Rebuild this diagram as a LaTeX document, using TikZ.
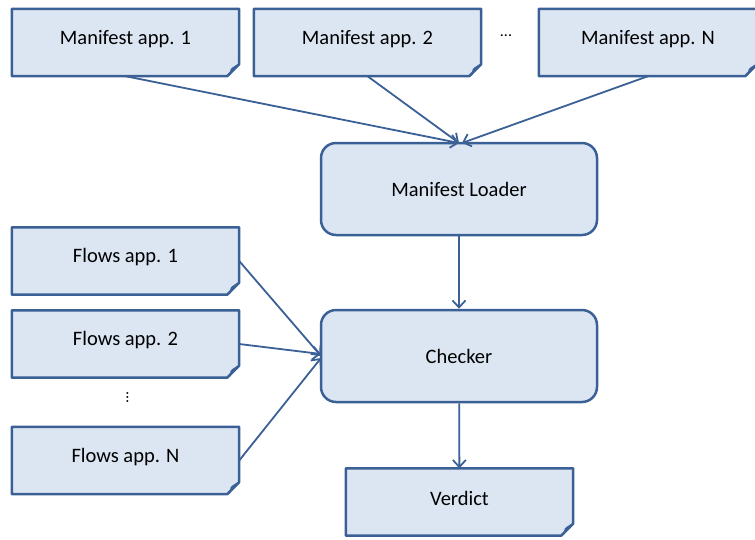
\documentclass[tikz,border=0pt]{standalone}
\usepackage{fontspec}
\setmainfont{Carlito}
\usetikzlibrary{arrows.meta,calc}
\definecolor{boxfill}{HTML}{DCE6F2}
\definecolor{boxline}{HTML}{3A6096}
\definecolor{foldfill}{HTML}{A9BEDB}
\begin{document}
\begin{tikzpicture}[x=1pt,y=-1pt,
  lbl/.style={font=\fontsize{20.5}{24}\selectfont, text=black},
  doclbl/.style={lbl, yshift=3.5pt},
  docbox/.style={lbl, minimum width=227pt, minimum height=67pt, inner sep=0pt},
  procbox/.style={lbl, draw=boxline, fill=boxfill, line width=2.5pt, rounded corners=15pt,
                  minimum width=276pt, minimum height=92pt, inner sep=0pt},
  conn/.style={draw=boxline, line width=1.8pt, -{Straight Barb[length=7pt,width=13pt,line width=1.8pt]}}]
\useasboundingbox (0,0) rectangle (755,539);

% document-shaped inputs and output (outline drawn below)
\node[docbox] (m1) at (125.5,42.5) {};
\node[docbox] (m2) at (367.5,42.5) {};
\node[docbox, minimum width=218pt] (mN) at (648,42.5) {};
\node[docbox] (f1) at (125.5,261) {};
\node[docbox] (f2) at (125.5,344) {};
\node[docbox] (fN) at (125.5,460.5) {};
\node[docbox] (v) at (459.5,502) {};

\foreach \nm in {m1,m2,mN,f1,f2,fN,v}{
  \path let \p1=(\nm.south west), \p2=(\nm.north east) in
    [draw=boxline, fill=boxfill, line width=2.5pt, line join=round]
    (\x1,\y2) -- (\x2,\y2) -- (\x2,\y1+12pt) -- (\x2-12pt,\y1) -- (\x1,\y1) -- cycle;
  \path let \p1=(\nm.south west), \p2=(\nm.north east) in
    [draw=boxline, fill=foldfill, line width=1.6pt, line join=round]
    (\x2,\y1+12pt) .. controls (\x2-5pt,\y1+9pt) and (\x2-9pt,\y1+7pt) .. (\x2-8pt,\y1+5pt)
    .. controls (\x2-9pt,\y1+2pt) .. (\x2-12pt,\y1) -- cycle;
}

\node[doclbl] at (m1) {Manifest app. 1};
\node[doclbl] at (m2) {Manifest app. 2};
\node[doclbl] at (mN) {Manifest app. N};
\node[doclbl] at (f1) {Flows app. 1};
\node[doclbl] at (f2) {Flows app. 2};
\node[doclbl] at (fN) {Flows app. N};
\node[doclbl] at (v) {Verdict};

\node[lbl, font=\fontsize{16}{18}\selectfont] (hdots) at (506,36) {...};
\node[lbl, font=\fontsize{16}{18}\selectfont, rotate=-90] (vdots) at (127.5,397.5) {...};

\node[procbox] (loader) at (459,189) {Manifest Loader};
\node[procbox] (checker) at (459,356) {Checker};

% connectors
\coordinate (lin) at (459,143);
\draw[conn] (m1.south) -- (lin);
\draw[conn] (m2.south) -- (lin);
\draw[conn] (mN.south) -- (462,143);
\draw[conn] (loader) -- (checker);
\draw[conn] (f1.east) -- (321,356);
\draw[conn] (f2.east) -- (321,354);
\draw[conn] (fN.east) -- (321,358);
\draw[conn] (checker) -- (v);
\end{tikzpicture}
\end{document}
